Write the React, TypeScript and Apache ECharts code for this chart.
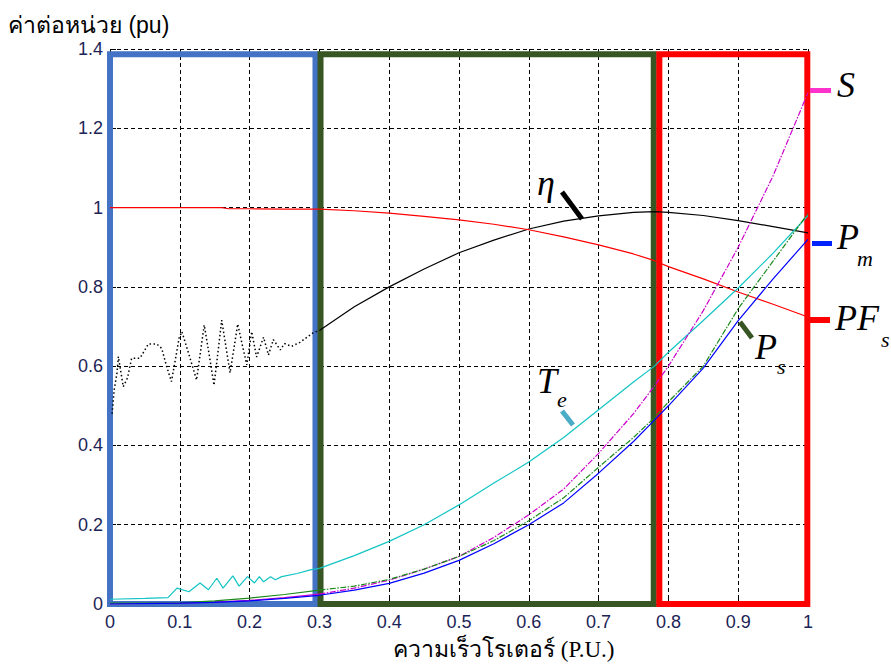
import React, { useEffect, useRef } from "react";
import * as echarts from "echarts";

// ---- data ----
const xTicks = [0, 0.1, 0.2, 0.3, 0.4, 0.5, 0.6, 0.7, 0.8, 0.9, 1];
const yTicks = [0, 0.2, 0.4, 0.6, 0.8, 1, 1.2, 1.4];

const etaLowX = [0.003, 0.006, 0.01, 0.012, 0.019, 0.025, 0.031, 0.043, 0.055, 0.067, 0.074, 0.081, 0.088, 0.094, 0.099, 0.103, 0.113, 0.124, 0.135, 0.142, 0.149, 0.155, 0.16, 0.166, 0.172, 0.178, 0.183, 0.19, 0.196, 0.203, 0.21, 0.22, 0.227, 0.234, 0.244, 0.25, 0.26, 0.272, 0.291, 0.3];
const etaLowY = [0.48, 0.54, 0.583, 0.624, 0.548, 0.57, 0.62, 0.62, 0.656, 0.656, 0.645, 0.6, 0.561, 0.62, 0.671, 0.687, 0.63, 0.565, 0.704, 0.63, 0.552, 0.64, 0.716, 0.65, 0.583, 0.65, 0.706, 0.65, 0.603, 0.687, 0.623, 0.673, 0.628, 0.667, 0.641, 0.657, 0.65, 0.66, 0.684, 0.69];

const speed = [0.3, 0.35, 0.4, 0.45, 0.5, 0.55, 0.6, 0.65, 0.7, 0.75, 0.78, 0.8, 0.85, 0.9, 0.95, 1.0];
const eta = [0.69, 0.75, 0.8, 0.845, 0.886, 0.918, 0.946, 0.966, 0.979, 0.988, 0.99, 0.988, 0.98, 0.967, 0.952, 0.936];
const pf = [0.996, 0.992, 0.986, 0.978, 0.969, 0.958, 0.944, 0.926, 0.906, 0.883, 0.866, 0.851, 0.82, 0.787, 0.756, 0.724];
const te = [0.09, 0.122, 0.158, 0.2, 0.25, 0.305, 0.358, 0.42, 0.49, 0.56, 0.6, 0.635, 0.715, 0.797, 0.885, 0.98];
const sPower = [0.025, 0.04, 0.06, 0.088, 0.12, 0.168, 0.225, 0.29, 0.38, 0.48, 0.55, 0.6, 0.74, 0.9, 1.08, 1.29];
const pm = [0.022, 0.035, 0.052, 0.078, 0.11, 0.152, 0.2, 0.255, 0.33, 0.41, 0.464, 0.5, 0.595, 0.715, 0.82, 0.92];
const ps = [0.035, 0.045, 0.062, 0.088, 0.12, 0.16, 0.21, 0.268, 0.345, 0.42, 0.47, 0.51, 0.6, 0.745, 0.865, 0.985];

const pfLowX = [0, 0.1, 0.16, 0.17, 0.2, 0.25, 0.3];
const pfLowY = [1.0, 1.0, 1.0, 0.997, 0.997, 0.996, 0.996];

const teLowX = [0, 0.05, 0.083, 0.096, 0.113, 0.129, 0.141, 0.153, 0.162, 0.176, 0.185, 0.197, 0.207, 0.214, 0.22, 0.23, 0.237, 0.246, 0.268, 0.287, 0.3];
const teLowY = [0.012, 0.014, 0.016, 0.04, 0.031, 0.053, 0.036, 0.065, 0.04, 0.071, 0.045, 0.069, 0.053, 0.069, 0.056, 0.069, 0.061, 0.069, 0.077, 0.086, 0.09];

const lowX = [0, 0.1, 0.15, 0.2, 0.25, 0.3];
const sLow = [0, 0.002, 0.005, 0.009, 0.016, 0.025];
const pmLow = [0, 0.002, 0.004, 0.008, 0.014, 0.022];
const psLow = [0.002, 0.003, 0.008, 0.015, 0.024, 0.035];

const pairs = (xs: number[], ys: number[]) => xs.map((x, i) => [x, ys[i]]);

export default function App() {
  const ref = useRef<HTMLDivElement>(null);
  useEffect(() => {
    document.body.style.margin = "0";
    const chart = echarts.init(ref.current!, null, { renderer: "svg" });
    const line = (name: string, data: number[][], color: string, extra: any = {}) => ({
      name,
      type: "line",
      data,
      showSymbol: false,
      symbol: "none",
      lineStyle: { color, width: 1.2, ...(extra.lineStyle || {}) },
      z: extra.z ?? 2,
    });
    const serif = "'Liberation Serif', 'Times New Roman', serif";
    const lbl = (text: string, x: number, y: number, size: number) => ({
      type: "text",
      x,
      y,
      style: { text, font: `italic ${size}px ${serif}`, fill: "#000", align: "left", verticalAlign: "middle" },
      z: 100,
    });
    chart.setOption({
      animation: false,
      grid: { left: 110, right: 83, top: 49, bottom: 62 },
      xAxis: {
        type: "value",
        min: 0,
        max: 1,
        interval: 0.1,
        axisLine: { show: false },
        axisTick: { show: true, inside: true, length: 6, lineStyle: { color: "#000" } },
        splitLine: { show: true, lineStyle: { color: "#000", type: [4, 3], width: 1 } },
        axisLabel: {
          margin: 9,
          fontSize: 18,
          fontFamily: "'Liberation Sans Narrow', 'Liberation Sans', Arial, sans-serif",
          color: "#1c2456",
          formatter: (v: number) => String(xTicks.find((t) => Math.abs(t - v) < 1e-6) ?? v),
        },
      },
      yAxis: {
        type: "value",
        min: 0,
        max: 1.4,
        interval: 0.2,
        axisLine: { show: false },
        axisTick: { show: true, inside: true, length: 6, lineStyle: { color: "#000" } },
        splitLine: { show: true, lineStyle: { color: "#000", type: [4, 3], width: 1 } },
        axisLabel: {
          margin: 7,
          fontSize: 18,
          fontFamily: "'Liberation Sans', Arial, sans-serif",
          color: "#1c2456",
          formatter: (v: number) => String(yTicks.find((t) => Math.abs(t - v) < 1e-6) ?? v),
        },
      },
      series: [
        line("eta-low", pairs(etaLowX, etaLowY), "#000", { lineStyle: { type: [1.5, 2.5], width: 1.5 } }),
        line("eta", pairs(speed, eta), "#000"),
        line("pf-low", pairs(pfLowX, pfLowY), "#ff0000"),
        line("pf", pairs(speed, pf), "#ff0000"),
        line("te-low", pairs(teLowX, teLowY), "#12c4c4"),
        line("te", pairs(speed, te), "#12c4c4"),
        line("s-low", pairs(lowX, sLow), "#cc00cc"),
        line("s", pairs(speed, sPower), "#cc00cc", { lineStyle: { type: [6, 1.5, 1.5, 1.5] } }),
        line("ps-low", pairs(lowX, psLow), "#1a8a1a"),
        line("ps", pairs(speed, ps), "#1a8a1a", { lineStyle: { type: [6, 1.5, 1.5, 1.5] } }),
        line("pm-low", pairs(lowX, pmLow), "#0000ff"),
        line("pm", pairs(speed, pm), "#0000ff"),
        {
          name: "boxes",
          type: "line",
          data: [],
          z: 10,
          clip: false,
          markArea: {
            silent: true,
            label: { show: false },
            data: [
              [
                { xAxis: 0, yAxis: 0, itemStyle: { color: "rgba(0,0,0,0)", borderColor: "#4472c4", borderWidth: 6 } },
                { xAxis: 0.2944, yAxis: 1.387 },
              ],
              [
                { xAxis: 0.3016, yAxis: 0, itemStyle: { color: "rgba(0,0,0,0)", borderColor: "#375623", borderWidth: 6 } },
                { xAxis: 0.779, yAxis: 1.387 },
              ],
              [
                { xAxis: 0.787, yAxis: 0, itemStyle: { color: "rgba(0,0,0,0)", borderColor: "#ff0000", borderWidth: 6 } },
                { xAxis: 0.999, yAxis: 1.387 },
              ],
            ],
          },
        },
      ],
      graphic: [
        {
          type: "text",
          x: 8,
          y: 25,
          style: {
            text: "ค่าต่อหน่วย (pu)",
            font: "23px 'Liberation Sans', Arial, 'Noto Sans', sans-serif",
            fill: "#000",
            align: "left",
            verticalAlign: "middle",
          },
        },
        {
          type: "text",
          x: 393,
          y: 649,
          style: {
            text: "ความเร็วโรเตอร์ (P.U.)",
            font: `23px ${serif}`,
            fill: "#000",
            align: "left",
            verticalAlign: "middle",
          },
        },
        // right-side legend marks
        { type: "rect", shape: { x: 810, y: 88, width: 21, height: 5 }, style: { fill: "#ff33cc" }, z: 100 },
        lbl("S", 837, 85, 36),
        { type: "rect", shape: { x: 812, y: 241, width: 20, height: 5 }, style: { fill: "#0022ff" }, z: 100 },
        lbl("P", 837, 237, 36),
        lbl("m", 857, 258, 22),
        { type: "rect", shape: { x: 808, y: 317, width: 22, height: 6 }, style: { fill: "#ff0000" }, z: 100 },
        lbl("PF", 835, 318, 36),
        lbl("s", 881, 339, 22),
        // in-plot labels with leaders
        { type: "line", shape: { x1: 562, y1: 192, x2: 582, y2: 219 }, style: { stroke: "#000", lineWidth: 5 }, z: 100 },
        lbl("η", 537, 183, 36),
        { type: "line", shape: { x1: 562, y1: 411, x2: 573, y2: 425 }, style: { stroke: "#4bacc6", lineWidth: 5 }, z: 100 },
        lbl("T", 537, 381, 36),
        lbl("e", 557, 399, 22),
        { type: "line", shape: { x1: 740, y1: 322, x2: 752, y2: 338 }, style: { stroke: "#375623", lineWidth: 5 }, z: 100 },
        lbl("P", 755, 347, 36),
        lbl("s", 777, 366, 22),
      ],
    });
    return () => chart.dispose();
  }, []);
  return <div ref={ref} style={{ width: 891, height: 666 }} />;
}
